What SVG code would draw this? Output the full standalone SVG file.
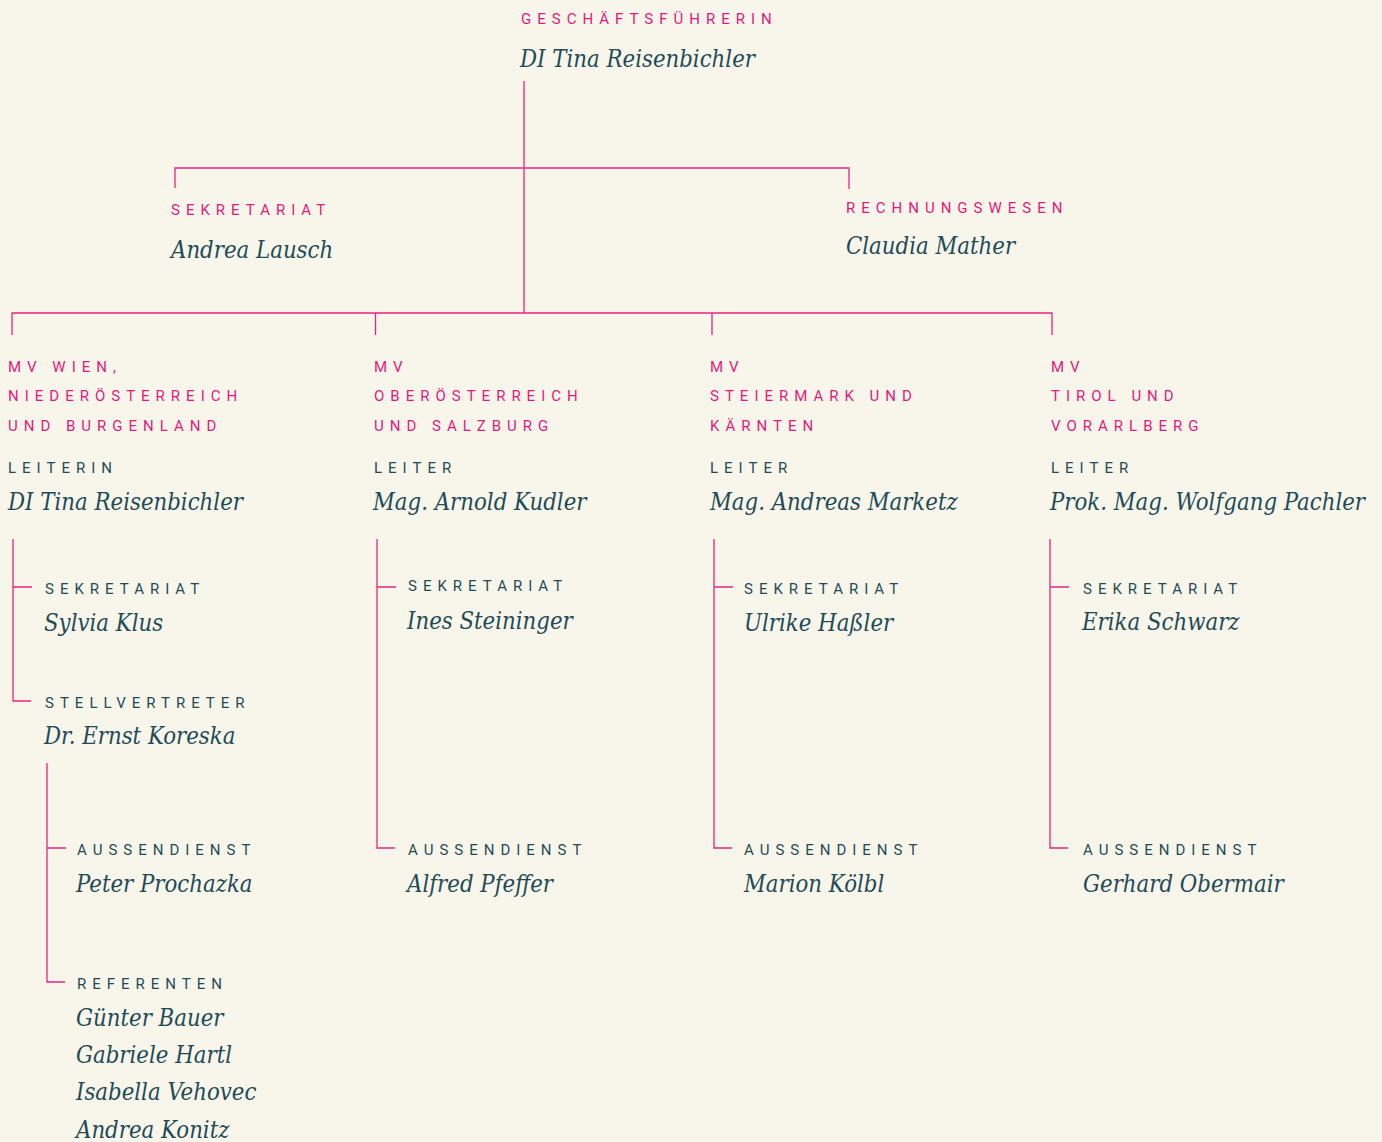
<svg xmlns="http://www.w3.org/2000/svg" width="1382" height="1142" viewBox="0 0 1382 1142">
<style>
.bg{fill:#f8f6eb}
.lbl{font-family:Roboto,"Liberation Sans",sans-serif;font-size:15px;letter-spacing:6px}
.pk{fill:#e5197c}
.tl{fill:#1f4b57}
.nm{font-family:"DejaVu Serif","Liberation Serif",serif;font-style:italic;font-size:23.7px;font-stretch:condensed;fill:#1f4b57}
.ln{fill:none;stroke:#e8247f;stroke-width:1.3}
</style>
<rect class="bg" x="0" y="0" width="1382" height="1142"/>
<g id="connectors">
<path class="ln" d="M524 81V313M175 188V168H849V189M12 335V313H1052V335M375.5 313V335M712 313V335"/>
<path class="ln" d="M13 539V701H31M13 587H32"/>
<path class="ln" d="M47 763V982H65M47 848H66"/>
<path class="ln" d="M377 539V848H395M377 587H396"/>
<path class="ln" d="M714 539V848H732M714 587H733"/>
<path class="ln" d="M1050 539V848H1068M1050 587H1069"/>
</g>
<g id="gf">
<text class="lbl pk" x="521" y="24">GESCHÄFTSFÜHRERIN</text>
<text class="nm" x="520" y="67">DI Tina Reisenbichler</text>
</g>
<g id="sekretariat-top">
<text class="lbl pk" x="171" y="215">SEKRETARIAT</text>
<text class="nm" x="171" y="258">Andrea Lausch</text>
</g>
<g id="rechnungswesen">
<text class="lbl pk" x="846" y="213">RECHNUNGSWESEN</text>
<text class="nm" x="846" y="254">Claudia Mather</text>
</g>
<g id="mv-wien">
<text class="lbl pk" x="8" y="372">MV WIEN,</text>
<text class="lbl pk" x="8" y="401">NIEDERÖSTERREICH</text>
<text class="lbl pk" x="8" y="431">UND BURGENLAND</text>
<text class="lbl tl" x="8" y="473">LEITERIN</text>
<text class="nm" x="8" y="510">DI Tina Reisenbichler</text>
</g>
<g id="mv-ooe">
<text class="lbl pk" x="374" y="372">MV</text>
<text class="lbl pk" x="374" y="401">OBERÖSTERREICH</text>
<text class="lbl pk" x="374" y="431">UND SALZBURG</text>
<text class="lbl tl" x="374" y="473">LEITER</text>
<text class="nm" x="373" y="510">Mag. Arnold Kudler</text>
</g>
<g id="mv-stmk">
<text class="lbl pk" x="710" y="372">MV</text>
<text class="lbl pk" x="710" y="401">STEIERMARK UND</text>
<text class="lbl pk" x="710" y="431">KÄRNTEN</text>
<text class="lbl tl" x="710" y="473">LEITER</text>
<text class="nm" x="710" y="510">Mag. Andreas Marketz</text>
</g>
<g id="mv-tirol">
<text class="lbl pk" x="1051" y="372">MV</text>
<text class="lbl pk" x="1051" y="401">TIROL UND</text>
<text class="lbl pk" x="1051" y="431">VORARLBERG</text>
<text class="lbl tl" x="1051" y="473">LEITER</text>
<text class="nm" x="1050" y="510">Prok. Mag. Wolfgang Pachler</text>
</g>
<g id="wien-sekretariat">
<text class="lbl tl" x="45" y="594">SEKRETARIAT</text>
<text class="nm" x="44" y="631">Sylvia Klus</text>
</g>
<g id="wien-stellvertreter">
<text class="lbl tl" x="45" y="708">STELLVERTRETER</text>
<text class="nm" x="44" y="744">Dr. Ernst Koreska</text>
</g>
<g id="wien-aussendienst">
<text class="lbl tl" x="77" y="855">AUSSENDIENST</text>
<text class="nm" x="76" y="892">Peter Prochazka</text>
</g>
<g id="wien-referenten">
<text class="lbl tl" x="77" y="989">REFERENTEN</text>
<text class="nm" x="76" y="1026">Günter Bauer</text>
<text class="nm" x="76" y="1063">Gabriele Hartl</text>
<text class="nm" x="76" y="1100">Isabella Vehovec</text>
<text class="nm" x="76" y="1138">Andrea Konitz</text>
</g>
<g id="ooe-sekretariat">
<text class="lbl tl" x="408" y="591">SEKRETARIAT</text>
<text class="nm" x="407" y="629">Ines Steininger</text>
</g>
<g id="ooe-aussendienst">
<text class="lbl tl" x="408" y="855">AUSSENDIENST</text>
<text class="nm" x="407" y="892">Alfred Pfeffer</text>
</g>
<g id="stmk-sekretariat">
<text class="lbl tl" x="744" y="594">SEKRETARIAT</text>
<text class="nm" x="744" y="631">Ulrike Haßler</text>
</g>
<g id="stmk-aussendienst">
<text class="lbl tl" x="744" y="855">AUSSENDIENST</text>
<text class="nm" x="744" y="892">Marion Kölbl</text>
</g>
<g id="tirol-sekretariat">
<text class="lbl tl" x="1083" y="594">SEKRETARIAT</text>
<text class="nm" x="1082" y="630">Erika Schwarz</text>
</g>
<g id="tirol-aussendienst">
<text class="lbl tl" x="1083" y="855">AUSSENDIENST</text>
<text class="nm" x="1083" y="892">Gerhard Obermair</text>
</g>
</svg>
